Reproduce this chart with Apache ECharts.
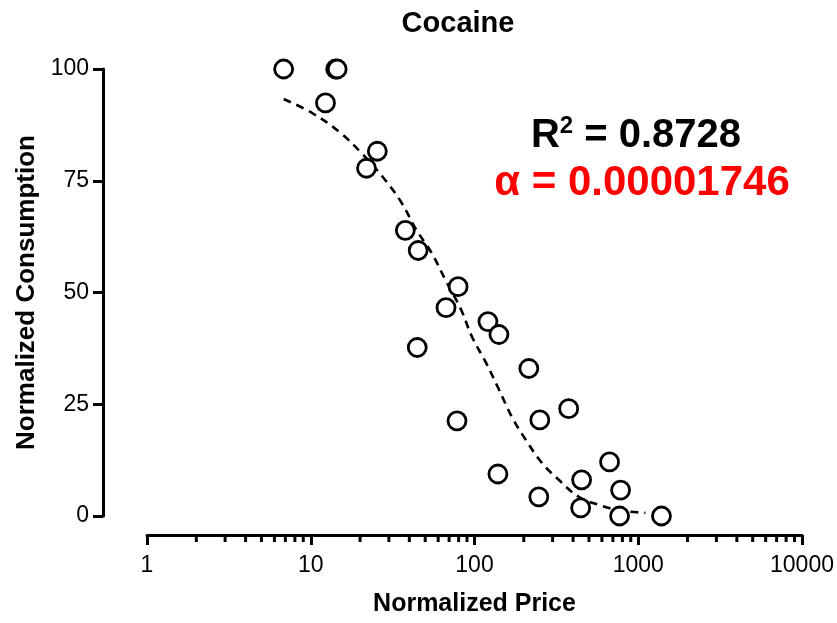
<!DOCTYPE html>
<html>
<head>
<meta charset="utf-8">
<script src="https://cdn.jsdelivr.net/npm/echarts@6/dist/echarts.min.js"></script>
<style>
  html, body { margin: 0; padding: 0; background: #fff; }
  #chart { width: 837px; height: 623px; }
</style>
</head>
<body>
<div id="chart"></div>
<script>
// Observed price / consumption pairs
const price = [6.83, 14.2, 14.5, 12.3, 25.5, 21.9, 37.8, 45.3, 79.4, 67.0, 120.8, 141, 44.7,
  214.7, 376, 250.5, 78.2, 668, 451, 139, 780, 247, 445, 769, 1386];
const consumption = [100, 100, 100, 92.4, 81.6, 77.8, 63.9, 59.4, 51.3, 46.6, 43.5, 40.6, 37.7,
  33.0, 24.0, 21.5, 21.3, 12.1, 8.1, 9.4, 5.8, 4.3, 1.8, 0, 0];

// Fitted demand curve, sampled along its length
const fitPrice = [6.83, 10.25, 14.96, 20.65, 27.3, 35.7, 44.0, 54.4, 67.1, 82.7, 96.5, 117.5,
  141, 169, 206, 258, 327, 433, 573, 758, 1107];
const fitConsumption = [93.3, 90.1, 85.9, 81.0, 76.0, 70.2, 64.1, 59.0, 52.5, 46.2, 40.1, 34.3,
  28.3, 22.2, 17.0, 11.9, 8.1, 4.3, 2.5, 1.3, 0.7];

const yTicks = [0, 25, 50, 75, 100];
const xDecades = [1, 10, 100, 1000, 10000];

const titleText = 'Cocaine';
const xName = 'Normalized Price';
const yName = 'Normalized Consumption';
const r2Value = '0.8728';
const alphaValue = '0.00001746';

const FONT = '"Liberation Sans", Arial, Helvetica, sans-serif';

// minor tick positions 2..9 within each decade
const minorTicks = [];
for (let d = 0; d < xDecades.length - 1; d++) {
  for (let m = 2; m <= 9; m++) minorTicks.push([xDecades[d] * m, 0]);
}

const X_OFFSET = 19;

const chart = echarts.init(document.getElementById('chart'), null, { renderer: 'canvas' });

chart.setOption({
  animation: false,
  backgroundColor: '#fff',
  title: {
    text: titleText,
    left: 453, top: 4, textAlign: 'center',
    textStyle: { fontFamily: FONT, fontWeight: 'bold', fontSize: 29, color: '#000' }
  },
  grid: { left: 147, right: 35, top: 69, bottom: 107, containLabel: false },
  xAxis: {
    type: 'log', logBase: 10, min: xDecades[0], max: xDecades[xDecades.length - 1],
    offset: X_OFFSET,
    name: xName, nameLocation: 'middle', nameGap: 57,
    nameTextStyle: { fontFamily: FONT, fontWeight: 'bold', fontSize: 25, color: '#000' },
    axisLine: { show: true, onZero: false, lineStyle: { color: '#000', width: 3 } },
    axisTick: { show: true, length: 10, lineStyle: { color: '#000', width: 3 } },
    axisLabel: { fontFamily: FONT, fontSize: 23, color: '#000', margin: 19,
      formatter: v => String(Math.round(v)) },
    splitLine: { show: false },
    minorTick: { show: false }
  },
  yAxis: {
    type: 'value', min: yTicks[0], max: yTicks[yTicks.length - 1], interval: 25,
    offset: 44,
    name: yName, nameLocation: 'middle', nameGap: 62, nameRotate: 90,
    nameTextStyle: { fontFamily: FONT, fontWeight: 'bold', fontSize: 26, color: '#000' },
    axisLine: { show: true, onZero: false, lineStyle: { color: '#000', width: 3 } },
    axisTick: { show: true, length: 10, lineStyle: { color: '#000', width: 3 } },
    axisLabel: { fontFamily: FONT, fontSize: 23, color: '#000', margin: 14 },
    splitLine: { show: false }
  },
  graphic: [
    {
      type: 'text', x: 636, y: 136,
      style: {
        text: '{m|R}{s|2}{m| = ' + r2Value + '}',
        align: 'center', verticalAlign: 'middle',
        rich: {
          m: { fontFamily: FONT, fontWeight: 'bold', fontSize: 40, fill: '#000', lineHeight: 44 },
          s: { fontFamily: FONT, fontWeight: 'bold', fontSize: 24, fill: '#000', lineHeight: 24, verticalAlign: 'top' }
        }
      }
    },
    {
      type: 'text', x: 642, y: 183,
      style: {
        text: 'α = ' + alphaValue,
        align: 'center', verticalAlign: 'middle',
        fontFamily: FONT, fontWeight: 'bold', fontSize: 42, fill: '#ff0000'
      }
    }
  ],
  series: [
    {
      type: 'line', name: 'fit',
      data: fitPrice.map((p, i) => [p, fitConsumption[i]]),
      smooth: 0.4, showSymbol: false, symbol: 'none',
      lineStyle: { color: '#000', width: 2.6, type: [8, 6] },
      z: 2, silent: true
    },
    {
      type: 'scatter', name: 'observed',
      data: price.map((p, i) => [p, consumption[i]]),
      symbol: 'circle', symbolSize: 18,
      itemStyle: { color: '#fff', borderColor: '#000', borderWidth: 2.8, opacity: 1 },
      z: 3, silent: true
    },
    {
      type: 'custom', name: 'minorTicks',
      data: minorTicks, clip: false, silent: true, z: 4,
      renderItem: function (params, api) {
        const pt = api.coord([api.value(0), 0]);
        const y0 = pt[1] + X_OFFSET;
        return {
          type: 'line',
          shape: { x1: pt[0], y1: y0, x2: pt[0], y2: y0 + 7 },
          style: { stroke: '#000', lineWidth: 3 }
        };
      }
    }
  ]
});
</script>
</body>
</html>
